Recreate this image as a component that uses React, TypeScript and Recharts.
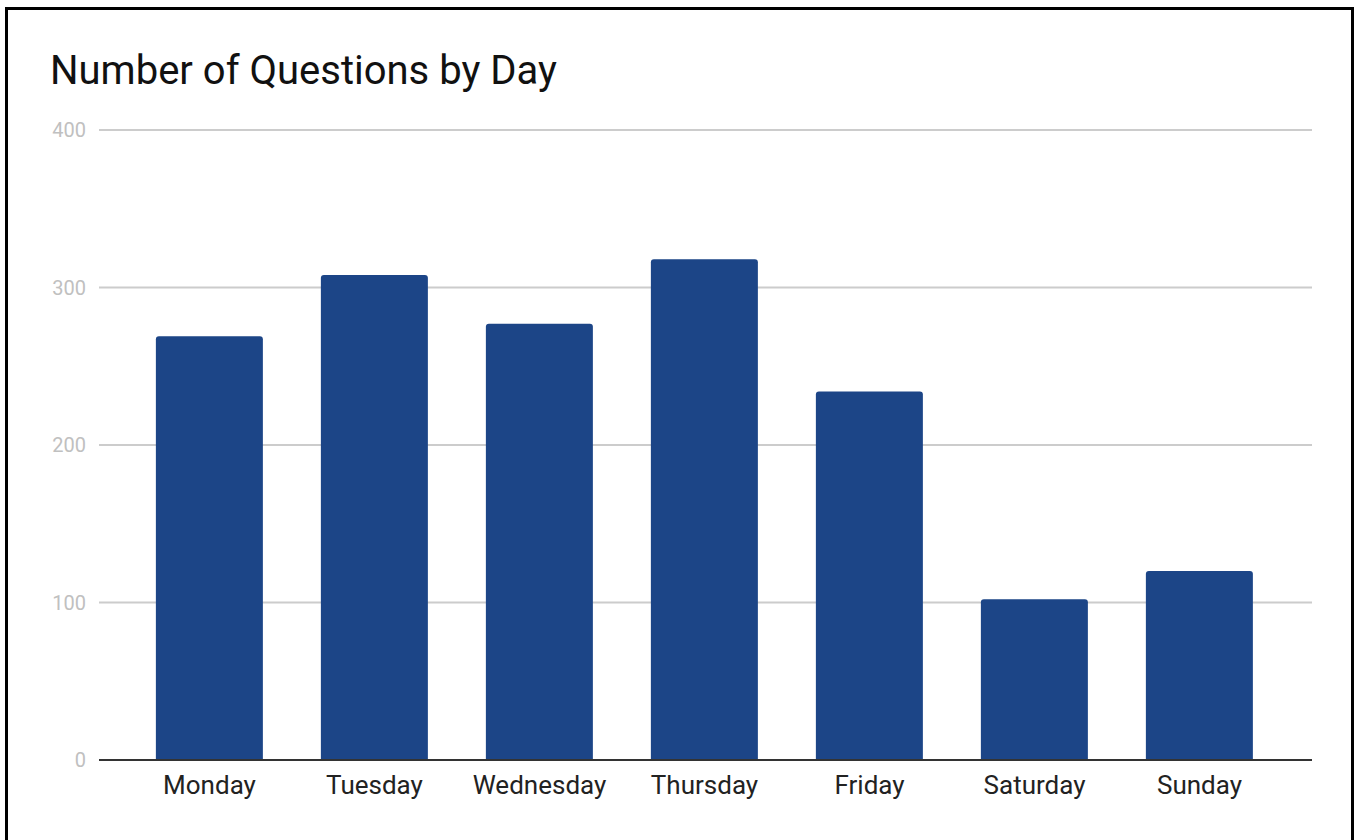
import { BarChart, Bar, XAxis, YAxis, CartesianGrid } from 'recharts'

const days = ['Monday', 'Tuesday', 'Wednesday', 'Thursday', 'Friday', 'Saturday', 'Sunday']
const questions = [269, 308, 277, 318, 234, 102, 120]
const yTicks = [0, 100, 200, 300, 400]

const data = days.map((day, i) => ({ day, questions: questions[i] }))

export default function App() {
  return (
    <div style={{ position: 'absolute', left: 0, top: 0, width: 1355, height: 840, background: '#fff', overflow: 'hidden' }}>
      <div
        style={{
          position: 'absolute',
          left: 5,
          top: 7,
          width: 1343,
          height: 860,
          border: '3px solid #000',
        }}
      />
      <div
        style={{
          position: 'absolute',
          left: 50,
          top: 51,
          fontFamily: 'Roboto',
          fontSize: 40,
          lineHeight: 1,
          color: '#111',
          whiteSpace: 'nowrap',
        }}
      >
        Number of Questions by Day
      </div>
      <div style={{ position: 'absolute', left: 0, top: 0 }}>
        <BarChart
          width={1355}
          height={840}
          data={data}
          margin={{ top: 130, right: 43, bottom: 0, left: 0 }}
          barCategoryGap="17.5%"
        >
          <CartesianGrid vertical={false} stroke="#cccccc" strokeWidth={2} />
          <XAxis
            dataKey="day"
            height={80}
            padding={{ left: 28, right: 30 }}
            tickLine={false}
            tickSize={0}
            tickMargin={16}
            axisLine={{ stroke: '#333', strokeWidth: 2 }}
            tick={{ fill: '#222', fontSize: 26, fontFamily: 'Roboto' }}
            interval={0}
          />
          <YAxis
            width={99}
            domain={[0, 400]}
            ticks={yTicks}
            axisLine={false}
            tickLine={false}
            tickSize={0}
            tickMargin={13}
            tick={{ fill: '#c0c0c0', fontSize: 20, fontFamily: 'Roboto' }}
          />
          <Bar dataKey="questions" fill="#1c4587" radius={[3, 3, 0, 0]} isAnimationActive={false} />
        </BarChart>
      </div>
    </div>
  )
}
